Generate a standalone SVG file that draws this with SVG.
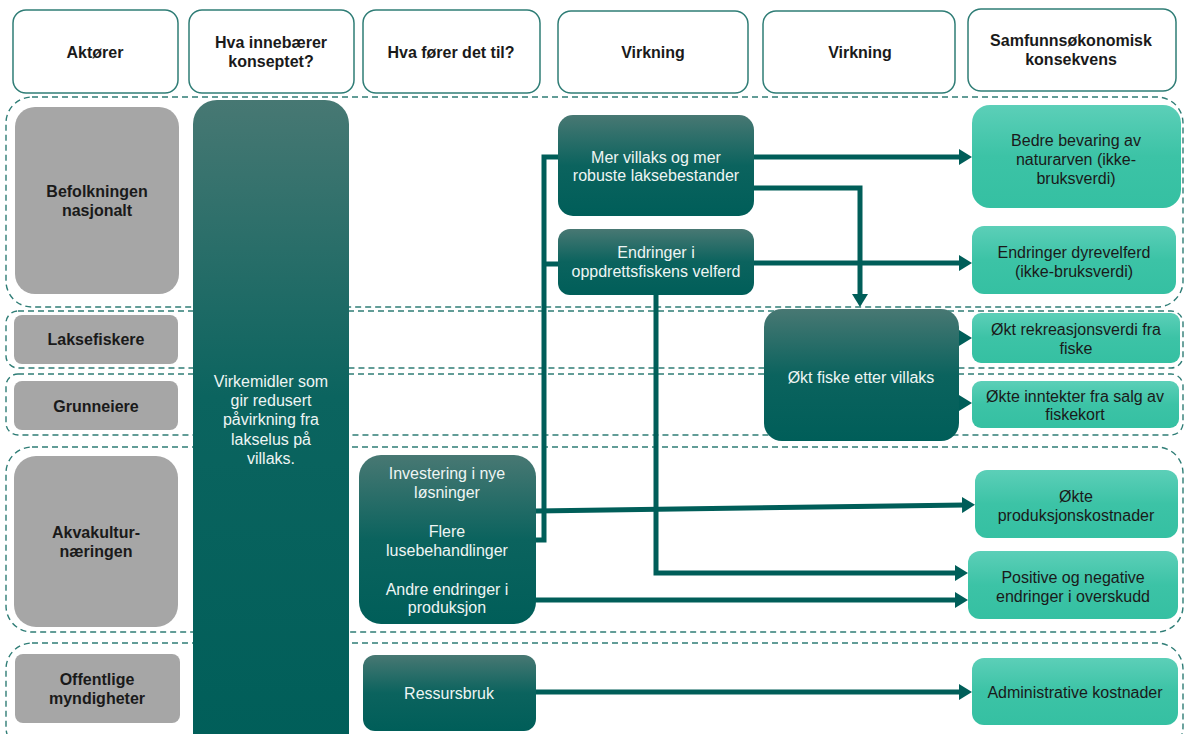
<svg xmlns="http://www.w3.org/2000/svg" width="1186" height="734" viewBox="0 0 1186 734">
<defs>
<linearGradient id="gDark" x1="0" y1="0" x2="0" y2="1">
<stop offset="0" stop-color="#487873"/>
<stop offset="0.5" stop-color="#0b635e"/>
<stop offset="1" stop-color="#005e59"/>
</linearGradient>
<linearGradient id="gCol" x1="0" y1="0" x2="0" y2="1">
<stop offset="0" stop-color="#477873"/>
<stop offset="0.45" stop-color="#0b645f"/>
<stop offset="1" stop-color="#005e59"/>
</linearGradient>
<linearGradient id="gLight" x1="0" y1="0" x2="0" y2="1">
<stop offset="0" stop-color="#5ccfb8"/>
<stop offset="0.5" stop-color="#3cc3a6"/>
<stop offset="1" stop-color="#35c0a2"/>
</linearGradient>
<marker id="arr" markerUnits="userSpaceOnUse" markerWidth="14" markerHeight="16" refX="3" refY="8" orient="auto">
<path d="M0,0 L13,8 L0,16 z" fill="#005e59"/>
</marker>
<style>
.hdr{fill:#fff;stroke:#2f7d76;stroke-width:1.5}
.row{fill:none;stroke:#2f7d76;stroke-width:1.4;stroke-dasharray:6 4}
.act{fill:#a6a6a6}
.dark{fill:url(#gDark)}
.light{fill:url(#gLight)}
.ht{font-family:"Liberation Sans",Arial,sans-serif;font-weight:700;font-size:16px;fill:#1a1a1a;text-anchor:middle}
.at{font-family:"Liberation Sans",Arial,sans-serif;font-weight:700;font-size:16px;fill:#1a1a1a;text-anchor:middle}
.wt{font-family:"Liberation Sans",Arial,sans-serif;font-size:16px;fill:#eef5f4;text-anchor:middle}
.bt{font-family:"Liberation Sans",Arial,sans-serif;font-size:16px;fill:#1a1a1a;text-anchor:middle}
.cn{fill:none;stroke:#005e59;stroke-width:5}
</style>
</defs>

<g id="rows">
<rect class="row" x="6" y="97" width="1177" height="210" rx="26"/>
<rect class="row" x="6" y="311" width="1177" height="57" rx="12"/>
<rect class="row" x="6" y="374" width="1177" height="61" rx="12"/>
<rect class="row" x="6" y="447" width="1177" height="185" rx="26"/>
<rect class="row" x="6" y="643" width="1177" height="110" rx="26"/>
</g>

<g id="headers">
<g id="h-aktorer"><rect class="hdr" x="13" y="10" width="165" height="83" rx="13"/><text class="ht" x="95" y="58">Aktører</text></g>
<g id="h-konsept"><rect class="hdr" x="189" y="10" width="165" height="83" rx="13"/><text class="ht" x="271" y="48">Hva innebærer</text><text class="ht" x="271" y="67">konseptet?</text></g>
<g id="h-forer"><rect class="hdr" x="363" y="10" width="177" height="83" rx="13"/><text class="ht" x="451" y="58">Hva fører det til?</text></g>
<g id="h-virkning1"><rect class="hdr" x="558" y="11" width="190" height="82" rx="13"/><text class="ht" x="653" y="58">Virkning</text></g>
<g id="h-virkning2"><rect class="hdr" x="763" y="11" width="192" height="82" rx="13"/><text class="ht" x="860" y="58">Virkning</text></g>
<g id="h-samf"><rect class="hdr" x="968" y="9" width="208" height="82" rx="13"/><text class="ht" x="1071" y="46">Samfunnsøkonomisk</text><text class="ht" x="1071" y="65">konsekvens</text></g>
</g>

<g id="actors">
<g id="a-befolkning"><rect class="act" x="15" y="107" width="164" height="187" rx="20"/><text class="at" x="97" y="197">Befolkningen</text><text class="at" x="97" y="216">nasjonalt</text></g>
<g id="a-laksefiskere"><rect class="act" x="14" y="315" width="164" height="49" rx="8"/><text class="at" x="96" y="345">Laksefiskere</text></g>
<g id="a-grunneiere"><rect class="act" x="14" y="381" width="164" height="49" rx="8"/><text class="at" x="96" y="412">Grunneiere</text></g>
<g id="a-akvakultur"><rect class="act" x="14" y="456" width="164" height="171" rx="22"/><text class="at" x="96" y="538">Akvakultur-</text><text class="at" x="96" y="557">næringen</text></g>
<g id="a-offentlige"><rect class="act" x="15" y="654" width="165" height="69" rx="8"/><text class="at" x="97" y="685">Offentlige</text><text class="at" x="97" y="704">myndigheter</text></g>
</g>

<g id="connectors">
<path class="cn" d="M536,540 H544 V157 H568 M544,264 H568"/>
<path class="cn" d="M754,157 H962" marker-end="url(#arr)"/>
<path class="cn" d="M754,188 H860 V297" marker-end="url(#arr)"/>
<path class="cn" d="M754,263 H962" marker-end="url(#arr)"/>
<path class="cn" d="M656,295 V573 H958" marker-end="url(#arr)"/>
<path class="cn" d="M948,338 H962" marker-end="url(#arr)"/>
<path class="cn" d="M956,403 H962" marker-end="url(#arr)"/>
<path class="cn" d="M536,511 L965,505" marker-end="url(#arr)"/>
<path class="cn" d="M536,600 H958" marker-end="url(#arr)"/>
<path class="cn" d="M536,692 H962" marker-end="url(#arr)"/>
</g>

<g id="n-virkemidler"><rect x="193" y="100" width="156" height="660" rx="24" fill="url(#gCol)"/><text class="wt" x="271" y="387">Virkemidler som</text><text class="wt" x="271" y="406">gir redusert</text><text class="wt" x="271" y="425">påvirkning fra</text><text class="wt" x="271" y="445">lakselus på</text><text class="wt" x="271" y="464">villaks.</text></g>

<g id="n-tiltak"><rect class="dark" x="359" y="455" width="177" height="169" rx="22"/><text class="wt" x="447" y="479">Investering i nye</text><text class="wt" x="447" y="498">løsninger</text><text class="wt" x="447" y="537">Flere</text><text class="wt" x="447" y="556">lusebehandlinger</text><text class="wt" x="447" y="595">Andre endringer i</text><text class="wt" x="447" y="613">produksjon</text></g>

<g id="n-ressursbruk"><rect class="dark" x="363" y="655" width="173" height="76" rx="12"/><text class="wt" x="449" y="699">Ressursbruk</text></g>

<g id="n-mervillaks"><rect class="dark" x="558" y="115" width="196" height="101" rx="15"/><text class="wt" x="656" y="163">Mer villaks og mer</text><text class="wt" x="656" y="181">robuste laksebestander</text></g>

<g id="n-endringer"><rect class="dark" x="558" y="229" width="196" height="66" rx="12"/><text class="wt" x="656" y="258">Endringer i</text><text class="wt" x="656" y="277">oppdrettsfiskens velferd</text></g>

<g id="n-oktfiske"><rect class="dark" x="764" y="309" width="195" height="132" rx="18"/><text class="wt" x="861" y="383">Økt fiske etter villaks</text></g>

<g id="n-bevaring"><rect class="light" x="972" y="105" width="209" height="103" rx="18"/><text class="bt" x="1076" y="146">Bedre bevaring av</text><text class="bt" x="1076" y="165">naturarven (ikke-</text><text class="bt" x="1076" y="184">bruksverdi)</text></g>

<g id="n-dyrevelferd"><rect class="light" x="972" y="226" width="204" height="68" rx="12"/><text class="bt" x="1074" y="258">Endringer dyrevelferd</text><text class="bt" x="1074" y="277">(ikke-bruksverdi)</text></g>

<g id="n-rekreasjon"><rect class="light" x="972" y="313" width="208" height="50" rx="9"/><text class="bt" x="1076" y="335">Økt rekreasjonsverdi fra</text><text class="bt" x="1076" y="354">fiske</text></g>

<g id="n-inntekter"><rect class="light" x="972" y="381" width="207" height="47" rx="9"/><text class="bt" x="1075" y="402">Økte inntekter fra salg av</text><text class="bt" x="1075" y="420">fiskekort</text></g>

<g id="n-prodkost"><rect class="light" x="975" y="470" width="203" height="68" rx="12"/><text class="bt" x="1076" y="502">Økte</text><text class="bt" x="1076" y="521">produksjonskostnader</text></g>

<g id="n-overskudd"><rect class="light" x="968" y="551" width="210" height="68" rx="12"/><text class="bt" x="1073" y="583">Positive og negative</text><text class="bt" x="1073" y="602">endringer i overskudd</text></g>

<g id="n-admin"><rect class="light" x="972" y="658" width="206" height="67" rx="12"/><text class="bt" x="1075" y="698">Administrative kostnader</text></g>
</svg>
